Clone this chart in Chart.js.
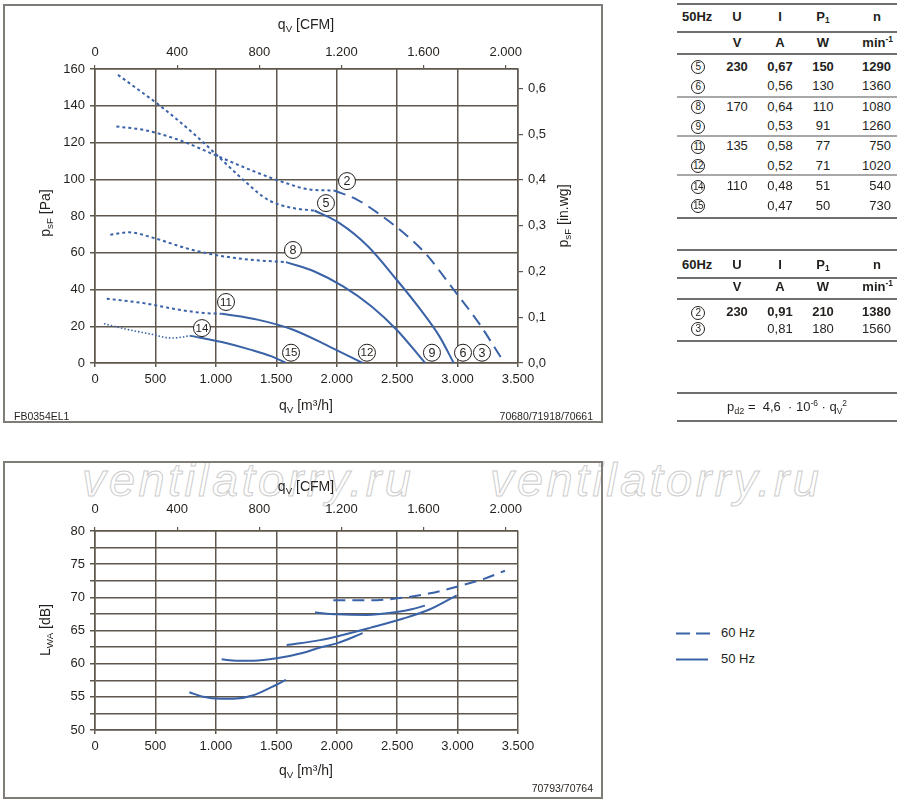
<!DOCTYPE html>
<html>
<head>
<meta charset="utf-8">
<script src="https://cdn.jsdelivr.net/npm/chart.js@4.4.0/dist/chart.umd.min.js"></script>
<style>
body { margin:0; width:900px; height:802px; background:#fff; position:relative; overflow:hidden;
       font-family:"Liberation Sans", Arial, sans-serif; color:#231f1c; }
.frame { position:absolute; border:2px solid #7f7b76; box-sizing:border-box; }
.abs { position:absolute; white-space:nowrap; }
.title { position:absolute; white-space:nowrap; font-size:14px; transform:translate(-50%,-50%); }
.title.rot { transform:translate(-50%,-50%) rotate(-90deg); }
sub { font-size:70%; vertical-align:-3px; line-height:0; }
sup { font-size:70%; vertical-align:5px; line-height:0; }
.code { position:absolute; font-size:10.5px; white-space:nowrap; transform:translateY(-50%); }
.wm { position:absolute; font-size:47px; font-style:italic; letter-spacing:3.4px; color:transparent;
      -webkit-text-stroke:1px #cdcdcd; white-space:nowrap; }
canvas { position:absolute; }
.hl { position:absolute; left:677px; width:220px; height:0; }
.cell { position:absolute; font-size:13px; line-height:20px; height:20px; white-space:nowrap; }
.circ { display:inline-block; width:12px; height:12px; border:1px solid #231f1c; border-radius:50%;
        font-size:10px; line-height:12px; text-align:center; vertical-align:middle; letter-spacing:-0.6px; }
</style>
</head>
<body>
<div class="wm" style="left:82px;top:452px">ventilatorry.ru</div>
<div class="wm" style="left:490px;top:452px">ventilatorry.ru</div>

<div class="frame" style="left:3px;top:4px;width:600px;height:419px"></div>
<div class="frame" style="left:3px;top:461px;width:600px;height:338px"></div>

<canvas id="fanChart" width="605" height="425" style="left:0;top:0;width:605px;height:425px"></canvas>
<canvas id="soundChart" width="605" height="338" style="left:0;top:462px;width:605px;height:338px"></canvas>

<div class="title" style="left:306px;top:24px">q<sub>V</sub> [CFM]</div>
<div class="title" style="left:306px;top:405px">q<sub>V</sub> [m³/h]</div>
<div class="title rot" style="left:45px;top:213px">p<sub>sF</sub> [Pa]</div>
<div class="title rot" style="left:563px;top:216px">p<sub>sF</sub> [in.wg]</div>
<div class="code" style="left:14px;top:416px">FB0354EL1</div>
<div class="code" style="right:307px;top:416px">70680/71918/70661</div>

<div class="title" style="left:306px;top:486px">q<sub>V</sub> [CFM]</div>
<div class="title" style="left:306px;top:770px">q<sub>V</sub> [m³/h]</div>
<div class="title rot" style="left:45px;top:630px">L<sub>WA</sub> [dB]</div>
<div class="code" style="right:307px;top:788px">70793/70764</div>

<svg class="abs" style="left:670px;top:620px" width="50" height="50">
  <line x1="6" y1="13.5" x2="40" y2="13.5" stroke="#3a62a7" stroke-width="2" stroke-dasharray="14 6"/>
  <line x1="6" y1="39.5" x2="38" y2="39.5" stroke="#3a62a7" stroke-width="2"/>
</svg>
<div class="cell" style="left:721px;top:623px">60 Hz</div>
<div class="cell" style="left:721px;top:649px">50 Hz</div>

<div id="tables"></div>

<script>
// unit conversions used by the secondary axes
const M3H_PER_CFM = 1.69901;
const PA_PER_INWG = 249.089;

// axis ticks
const flowTicks = [0, 500, 1000, 1500, 2000, 2500, 3000, 3500];
const cfmTicks = [0, 400, 800, 1200, 1600, 2000];
const pressureTicks = [0, 20, 40, 60, 80, 100, 120, 140, 160];
const inwgTicks = [0, 0.1, 0.2, 0.3, 0.4, 0.5, 0.6];
const soundTicks = [50, 52.5, 55, 57.5, 60, 62.5, 65, 67.5, 70, 72.5, 75, 77.5, 80];

// fan curves, [q m3/h, p Pa]; "Stall" = dotted part left of the working range
const curve2Stall = [[177,128.7],[399,126.9],[694,121.4],[989,113.3],[1285,105.1],[1580,97.9],[1787,94.3],[1979,93.9]];
const curve2 = [[1979,93.9],[2171,88.8],[2378,79.8],[2555,70.7],[2732,59.8],[2968,39.9],[3175,21.8],[3388,0]];
const curve5Stall = [[190,156.8],[399,146.8],[546,139.6],[842,123.3],[1049,110.6],[1226,99.7],[1432,88.8],[1639,84.3],[1816,83.0]];
const curve5 = [[1816,83.0],[2023,76.1],[2260,63.4],[2496,45.3],[2673,30.8],[2850,14.5],[2968,0]];
const curve8Stall = [[127,69.8],[281,71.1],[487,68.0],[753,62.5],[989,58.9],[1285,56.2],[1580,54.9]];
const curve8 = [[1580,54.9],[1816,49.8],[2053,41.7],[2289,30.8],[2496,18.1],[2732,0]];
const curve11Stall = [[97,35.0],[399,32.6],[694,29.0],[901,27.2],[1049,26.8]];
const curve11 = [[1049,26.8],[1344,23.6],[1639,18.1],[1935,9.1],[2215,0]];
const curve14Stall = [[74,21.4],[251,18.5],[458,15.8],[635,13.6],[724,14.1],[783,14.9]];
const curve14 = [[783,14.9],[1049,11.4],[1285,7.3],[1462,3.6],[1580,0]];

// circled curve numbers, [label, q, p]
const curveMarkers = [['2',2085,99],['5',1911,87],['8',1638,61.5],['11',1084,33.2],['14',885,19],
  ['15',1622,5.6],['12',2250,5.6],['9',2788,5.6],['6',3045,5.6],['3',3202,5.6]];

// sound power, [q m3/h, LWA dB]
const sound60 = [[1972,69.55],[2275,69.55],[2551,69.95],[2772,70.6],[2993,71.6],[3213,72.75],[3392,74.0]];
const soundA = [[1820,67.7],[2000,67.45],[2250,67.35],[2496,67.8],[2620,68.2],[2730,68.75]];
const soundB = [[1586,62.8],[1862,63.55],[2000,64.1],[2275,65.4],[2551,66.8],[2772,68.2],[2993,70.3]];
const soundC = [[1048,60.65],[1172,60.45],[1310,60.45],[1503,60.8],[1724,61.65],[1862,62.45],[2000,63.06],[2215,64.6]];
const soundD = [[781,55.7],[896,55.0],[1034,54.7],[1172,54.75],[1310,55.25],[1448,56.35],[1580,57.55]];

// data tables: curve no., U, I, P1, n, bold
const hz50Rows = [
  ['5','230','0,67','150','1290',true],
  ['6','','0,56','130','1360'],
  ['8','170','0,64','110','1080'],
  ['9','','0,53','91','1260'],
  ['11','135','0,58','77','750'],
  ['12','','0,52','71','1020'],
  ['14','110','0,48','51','540'],
  ['15','','0,47','50','730']
];
const hz60Rows = [
  ['2','230','0,91','210','1380',true],
  ['3','','0,81','180','1560']
];

const BLUE = '#3a62a7';
const GRID = '#5f564c';
const TXT = '#231f1c';
const FONT = {family: '"Liberation Sans", Arial, sans-serif', size: 13};

function fmtDot(v) {
  if (v >= 1000) return Math.floor(v / 1000) + '.' + String(v % 1000).padStart(3, '0');
  return String(v);
}

function curve(pts, dash, width) {
  return {
    data: pts.map(p => ({x: p[0], y: p[1]})),
    showLine: true,
    borderColor: BLUE,
    borderWidth: width || 2,
    borderDash: dash || [],
    pointRadius: 0,
    cubicInterpolationMode: 'monotone',
    fill: false
  };
}

function fixTicks(list) {
  return scale => { scale.ticks = list.map(v => ({value: v})); };
}

const circleLabels = {
  id: 'circleLabels',
  afterDatasetsDraw(chart) {
    const ctx = chart.ctx;
    const x = chart.scales.x, y = chart.scales.y;
    ctx.save();
    ctx.textAlign = 'center';
    ctx.textBaseline = 'middle';
    curveMarkers.forEach(m => {
      const px = x.getPixelForValue(m[1]);
      const py = y.getPixelForValue(m[2]);
      ctx.beginPath();
      ctx.arc(px, py, 8.5, 0, Math.PI * 2);
      ctx.fillStyle = '#fff';
      ctx.fill();
      ctx.lineWidth = 1;
      ctx.strokeStyle = TXT;
      ctx.stroke();
      ctx.fillStyle = TXT;
      ctx.font = (m[0].length > 1 ? '11.5px' : '12.5px') + ' "Liberation Sans", Arial, sans-serif';
      ctx.fillText(m[0], px, py + 0.5);
    });
    ctx.restore();
  }
};

const tickStyle = (pad, cb) => ({font: FONT, color: TXT, padding: pad, maxRotation: 0, autoSkip: false, callback: cb});

// pressure chart
new Chart(document.getElementById('fanChart'), {
  type: 'scatter',
  data: {
    datasets: [
      curve(curve2Stall, [3, 3]), curve(curve2, [12, 7]),
      curve(curve5Stall, [3, 3]), curve(curve5),
      curve(curve8Stall, [3, 3]), curve(curve8),
      curve(curve11Stall, [3, 3]), curve(curve11),
      curve(curve14Stall, [1.5, 2], 1.6), curve(curve14)
    ]
  },
  options: {
    responsive: false,
    animation: false,
    layout: {padding: 0},
    plugins: {legend: {display: false}, tooltip: {enabled: false}},
    scales: {
      x: {
        type: 'linear', position: 'bottom', min: 0, max: 3500,
        afterBuildTicks: fixTicks(flowTicks),
        afterFit: s => { s.height = 62; },
        ticks: tickStyle(5, v => fmtDot(v)),
        grid: {color: GRID, lineWidth: 1.5, tickLength: 4},
        border: {color: GRID, width: 1.5}
      },
      xTop: {
        type: 'linear', position: 'top', min: 0, max: 3500 / M3H_PER_CFM,
        afterBuildTicks: fixTicks(cfmTicks),
        afterFit: s => { s.height = 69; },
        ticks: tickStyle(5, v => fmtDot(v)),
        grid: {drawOnChartArea: false, color: GRID, lineWidth: 1.2, tickLength: 4},
        border: {color: GRID, width: 1.5}
      },
      y: {
        type: 'linear', position: 'left', min: 0, max: 160,
        afterBuildTicks: fixTicks(pressureTicks),
        afterFit: s => { s.width = 95; },
        ticks: tickStyle(5, v => String(v)),
        grid: {color: GRID, lineWidth: 1.5, tickLength: 5},
        border: {color: GRID, width: 1.5}
      },
      yRight: {
        type: 'linear', position: 'right', min: 0, max: 160 / PA_PER_INWG,
        afterBuildTicks: fixTicks(inwgTicks),
        afterFit: s => { s.width = 87; },
        ticks: tickStyle(5, v => v.toFixed(1).replace('.', ',')),
        grid: {drawOnChartArea: false, color: GRID, lineWidth: 1.2, tickLength: 5},
        border: {color: GRID, width: 1.5}
      }
    }
  },
  plugins: [circleLabels]
});

// sound power chart
new Chart(document.getElementById('soundChart'), {
  type: 'scatter',
  data: {
    datasets: [
      curve(sound60, [12, 7]),
      curve(soundA), curve(soundB), curve(soundC), curve(soundD)
    ]
  },
  options: {
    responsive: false,
    animation: false,
    layout: {padding: {right: 87}},
    plugins: {legend: {display: false}, tooltip: {enabled: false}},
    scales: {
      x: {
        type: 'linear', position: 'bottom', min: 0, max: 3500,
        afterBuildTicks: fixTicks(flowTicks),
        afterFit: s => { s.height = 70; },
        ticks: tickStyle(5, v => fmtDot(v)),
        grid: {color: GRID, lineWidth: 1.5, tickLength: 4},
        border: {color: GRID, width: 1.5}
      },
      xTop: {
        type: 'linear', position: 'top', min: 0, max: 3500 / M3H_PER_CFM,
        afterBuildTicks: fixTicks(cfmTicks),
        afterFit: s => { s.height = 69; },
        ticks: tickStyle(10, v => fmtDot(v)),
        grid: {drawOnChartArea: false, color: GRID, lineWidth: 1.2, tickLength: 4},
        border: {color: GRID, width: 1.5}
      },
      y: {
        type: 'linear', position: 'left', min: 50, max: 80,
        afterBuildTicks: fixTicks(soundTicks),
        afterFit: s => { s.width = 95; },
        ticks: tickStyle(5, v => (v % 5 === 0 ? String(v) : '')),
        grid: {color: GRID, lineWidth: 1.5, tickLength: 5},
        border: {color: GRID, width: 1.5}
      }
    }
  }
});

// tables on the right
const tables = document.getElementById('tables');
function put(html, left, cy, align, bold) {
  const d = document.createElement('div');
  d.className = 'cell';
  d.innerHTML = html;
  d.style.top = (cy - 10) + 'px';
  if (align === 'right') { d.style.right = (900 - left) + 'px'; }
  else if (align === 'center') { d.style.left = left + 'px'; d.style.transform = 'translateX(-50%)'; }
  else { d.style.left = left + 'px'; }
  if (bold) d.style.fontWeight = 'bold';
  tables.appendChild(d);
}
function hline(y, color, w) {
  const d = document.createElement('div');
  d.className = 'hl';
  d.style.top = y + 'px';
  d.style.borderTop = (w || 2) + 'px solid ' + color;
  tables.appendChild(d);
}
function header(label, cy, unitsY) {
  put(label, 682, cy, 'left', true);
  put('U', 737, cy, 'center', true);
  put('I', 780, cy, 'center', true);
  put('P<sub style="font-size:65%;vertical-align:-2px">1</sub>', 823, cy, 'center', true);
  put('n', 877, cy, 'center', true);
  put('V', 737, unitsY, 'center', true);
  put('A', 780, unitsY, 'center', true);
  put('W', 823, unitsY, 'center', true);
  put('min<sup style="font-size:65%;vertical-align:5px">-1</sup>', 893, unitsY, 'right', true);
}
function rows(list, centers) {
  list.forEach((r, i) => {
    const cy = centers[i], b = !!r[5];
    put('<span class="circ">' + r[0] + '</span>', 698, cy, 'center', false);
    put(r[1], 737, cy, 'center', b);
    put(r[2], 780, cy, 'center', b);
    put(r[3], 823, cy, 'center', b);
    put(r[4], 891, cy, 'right', b);
  });
}
hline(3, '#6f6f6f'); hline(31, '#6f6f6f'); hline(53, '#6f6f6f');
hline(96, '#a8a8a8'); hline(135, '#a8a8a8'); hline(174, '#a8a8a8'); hline(217, '#6f6f6f');
header('50Hz', 17, 43);
rows(hz50Rows, [66.5, 86, 106.5, 126, 146, 165.5, 186, 205.5]);

hline(249, '#6f6f6f'); hline(277, '#6f6f6f'); hline(298, '#6f6f6f'); hline(340, '#6f6f6f');
header('60Hz', 265, 287);
rows(hz60Rows, [312, 328.5]);

hline(392, '#6f6f6f'); hline(420, '#6f6f6f');
put('p<sub style="font-size:70%;vertical-align:-3px">d2</sub> =&nbsp; 4,6 &nbsp;· 10<sup style="font-size:65%;vertical-align:5px">-6</sup> · q<sub style="font-size:65%;vertical-align:-3px">V</sub><sup style="font-size:65%;vertical-align:5px">2</sup>', 787, 407, 'center', false);
</script>
</body>
</html>
